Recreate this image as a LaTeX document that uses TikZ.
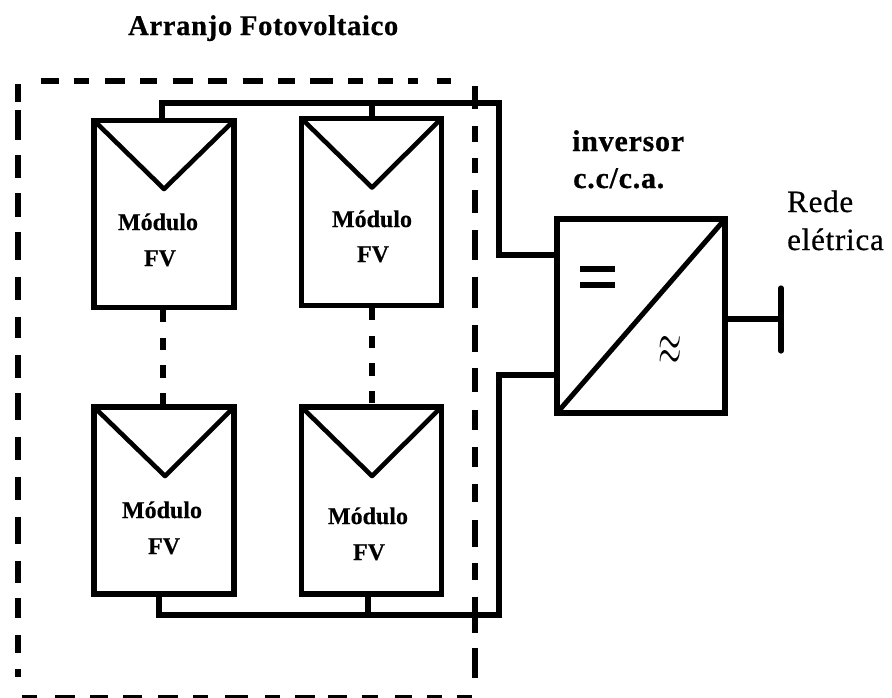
\documentclass[tikz,border=0pt]{standalone}
\usepackage{fontspec}
\usepackage{graphicx}
\setmainfont{Liberation Serif}
\newfontfamily\fbold[LetterSpace=2.5,FakeBold=0.6]{Liberation Serif Bold}
\newfontfamily\fmod[FakeBold=0.4]{Liberation Serif Bold}
\newfontfamily\freg[LetterSpace=2.5,FakeBold=0.6]{Liberation Serif}
\usetikzlibrary{calc}
\tikzset{
  x=1pt,y=-1pt,
  module/.style={draw=black,line width=5.6pt,fill=white,rectangle,inner sep=0pt,minimum width=140pt,minimum height=187pt},
  conv/.style={draw=black,line width=5.6pt,fill=white,rectangle,inner sep=0pt,minimum width=168pt,minimum height=194pt},
  wire/.style={draw=black,line width=5.2pt,line join=miter},
  vee/.style={draw=black,line width=4.6pt,line join=round},
  frame/.style={draw=black,line width=6pt},
  lead/.style={draw=black,line width=5.6pt},
  heading/.style={inner sep=0pt,anchor=base west,font=\fbold\fontsize{28.5}{30}\selectfont},
  title/.style={inner sep=0pt,anchor=base west,font=\fbold\fontsize{30}{30}\selectfont},
  modtxt/.style={inner sep=0pt,anchor=base,font=\fmod\fontsize{24}{24}\selectfont},
  regtxt/.style={inner sep=0pt,anchor=base west,font=\freg\fontsize{31}{31}\selectfont},
}
\begin{document}
\begin{tikzpicture}
\useasboundingbox (0,0) rectangle (892,697);
\clip (0,0) rectangle (892,697);
\fill[white] (0,0) rectangle (892,697);
% modules
\node[module] (m1) at (164,214) {};
\node[module] (m2) at (371.5,212) {};
\node[module] (m3) at (164,500.5) {};
\node[module] (m4) at (371.5,500.5) {};
\node[conv] (inv) at (641,316) {};
% collectors and junctions
\coordinate (tl) at (162,103);
\coordinate (tm) at (372,103);
\coordinate (tr) at (499,103);
\coordinate (ti) at (499,255);
\coordinate (bi) at (499,375);
\coordinate (br) at (499,615);
\coordinate (bl) at (159,615);
\coordinate (bm) at (368,615);
\path[wire] (tl |- m1.north) -- (tl) -- (tr) -- (ti) -- (ti -| inv.west);
\path[wire] (tm) -- (tm |- m2.north);
\path[wire] (bi -| inv.west) -- (bi) -- (br) -- (bl) -- (bl |- m3.south);
\path[wire] (bm) -- (bm |- m4.south);
% dashed links between modules
\foreach \a/\b in {310/322,338/350,365/378,393/405}{
  \draw[lead] (163,\a) -- (163,\b);
  \draw[lead] (372,\a-2) -- (372,\b-2);
}
% vees
\coordinate (a1) at (164,189);
\coordinate (a2) at (372,187.5);
\coordinate (a3) at (165,476);
\coordinate (a4) at (372,476);
\path[vee] ($(m1.north west)+(3,3)$) -- (a1) -- ($(m1.north east)+(-3,3)$);
\path[vee] ($(m2.north west)+(3,3)$) -- (a2) -- ($(m2.north east)+(-3,3)$);
\path[vee] ($(m3.north west)+(3,3)$) -- (a3) -- ($(m3.north east)+(-3,3)$);
\path[vee] ($(m4.north west)+(3,3)$) -- (a4) -- ($(m4.north east)+(-3,3)$);
% frame dashes
\foreach \a/\b in {122/178,222/268,315/375,420/470,518/578,625/680,728/788,835/885,930/998,1045/1090,1135/1178,1225/1255,1310/1352}
  \draw[frame] (\a/3,81) -- (\b/3,81);
\foreach \a/\b in {252/305,330/420,465/535,580/650,695/780,830/900,950/1015,1065/1135,1180/1260,1310/1380,1430/1500,1550/1632,1682/1748,1795/1855,1905/1960,2008/2030}
  \draw[frame] (18,\a/3) -- (18,\b/3);
\foreach \a/\b in {258/328,378/425,475/520,570/640,690/780,830/925,975/1055,1105/1175,1230/1290,1342/1400,1452/1507,1560/1640,1690/1740,1790/1900,1945/2035}
  \draw[frame] (475,\a/3) -- (475,\b/3);
\foreach \a/\b in {65/110,165/225,270/325,370/425,475/535,580/625,675/745,795/840,885/945,985/1040,1085/1135,1185/1235,1280/1325,1370/1415}
  \draw[frame] (\a/3,698) -- (\b/3,698);
% inverter interior
\coordinate (d1) at (inv.south west);
\coordinate (d2) at (inv.north east);
\path[vee,line width=5pt] ($(d1)+(2,-2)$) -- ($(d2)+(-2,2)$);
\coordinate (eqa) at (580,269);
\coordinate (eqb) at (615,269);
\coordinate (eqc) at (580,285);
\coordinate (eqd) at (615,285);
\path[lead] (eqa) -- (eqb);
\path[lead] (eqc) -- (eqd);
\node[inner sep=0pt,anchor=center,font=\fontsize{22}{22}\selectfont] (ac) at (670,351) {\scalebox{1.45}[2.9]{$\approx$}};
% grid
\coordinate (g) at (781,319);
\coordinate (g1) at (781,288);
\coordinate (g2) at (781,351);
\path[wire] (inv.east |- g) -- (g);
\path[wire,line cap=round] (g1) -- (g2);
% labels
\node[heading] (t) at (128,35) {Arranjo Fotovoltaico};
\node[modtxt] (m1a) at (158,230) {Módulo};
\node[modtxt] (m1b) at (160,266) {FV};
\node[modtxt] (m2a) at (372,227) {Módulo};
\node[modtxt] (m2b) at (373,262) {FV};
\node[modtxt] (m3a) at (162,518) {Módulo};
\node[modtxt] (m3b) at (164,554) {FV};
\node[modtxt] (m4a) at (368,524) {Módulo};
\node[modtxt] (m4b) at (369,560) {FV};
\node[title] (i1) at (572,151) {inversor};
\node[title] (i2) at (573,188) {c.c/c.a.};
\node[regtxt] (r1) at (787,212) {Rede};
\node[regtxt] (r2) at (787,250) {elétrica};
\end{tikzpicture}
\end{document}
